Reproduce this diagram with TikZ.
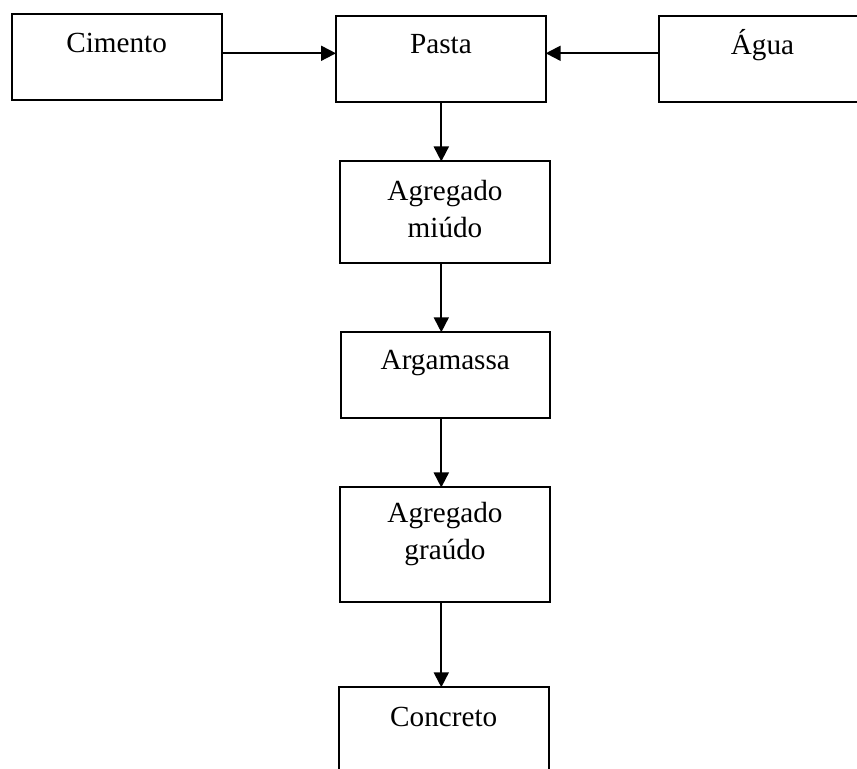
\documentclass[tikz,border=0pt]{standalone}
\usepackage{fontspec}
\setmainfont{Liberation Serif}
\usetikzlibrary{arrows.meta}
\begin{document}
\begin{tikzpicture}[x=0.5pt,y=-0.5pt,
  box/.style={draw, line width=1pt, rectangle, inner sep=0pt, outer sep=0pt, anchor=north west},
  lbl/.style={anchor=base, inner sep=0pt, font=\fontsize{14.6}{18.5}\selectfont},
  arr/.style={line width=0.95pt, -{Triangle[length=7.5pt,width=7.5pt]}}]
\useasboundingbox (0,0) rectangle (857,769);
\clip (0,0) rectangle (857,769);
\setlength{\tabcolsep}{0pt}
% boxes
\node[box, minimum width=104.9pt, minimum height=43.25pt] (cim) at (11.7,14) {};
\node[box, minimum width=104.85pt, minimum height=43.15pt] (pasta) at (336,15.7) {};
\node[box, minimum width=103.5pt, minimum height=43pt] (agua) at (659,15.7) {};
\node[box, minimum width=105pt, minimum height=50.9pt] (miudo) at (340,161.5) {};
\node[box, minimum width=104.5pt, minimum height=43pt] (arga) at (341,332.3) {};
\node[box, minimum width=105pt, minimum height=57.4pt] (graudo) at (339.5,487.5) {};
\node[box, minimum width=105pt, minimum height=50pt] (conc) at (338.5,687.3) {};
% labels
\node[lbl] (tcim) at (116.6,52.5) {Cimento};
\node[lbl] (tpasta) at (441,54) {Pasta};
\node[lbl] (tagua) at (762.5,55) {Água};
\node[lbl] (tmiudo) at (445,200.7) {\begin{tabular}[t]{c}Agregado\\miúdo\end{tabular}};
\node[lbl] (targa) at (445.3,369.3) {Argamassa};
\node[lbl] (tgraudo) at (445,522.5) {\begin{tabular}[t]{c}Agregado\\graúdo\end{tabular}};
\node[lbl] (tconc) at (443.7,726) {Concreto};
% connectors
\coordinate (hy) at (0,53.3);
\coordinate (vx) at (441.3,0);
\draw[arr] (cim.east |- hy) -- (pasta.west |- hy);
\draw[arr] (agua.west |- hy) -- (pasta.east |- hy);
\draw[arr] (pasta.south -| vx) -- (miudo.north -| vx);
\draw[arr] (miudo.south -| vx) -- (arga.north -| vx);
\draw[arr] (arga.south -| vx) -- (graudo.north -| vx);
\draw[arr] (graudo.south -| vx) -- (conc.north -| vx);
\end{tikzpicture}
\end{document}
